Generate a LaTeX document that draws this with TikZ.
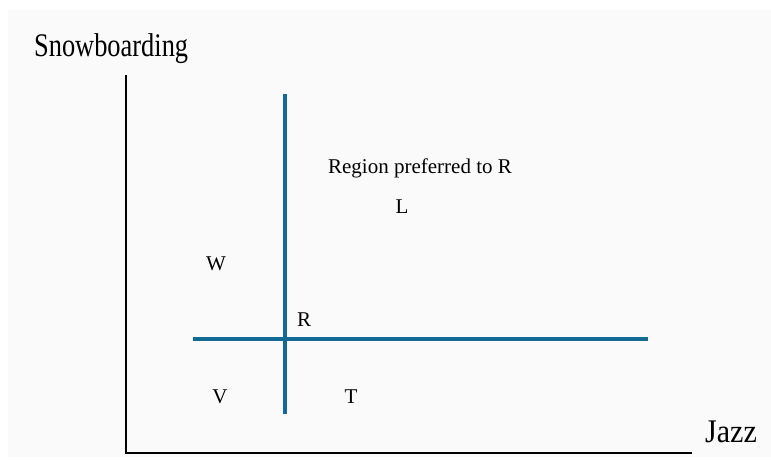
\documentclass[tikz,border=0pt]{standalone}
\usepackage{fontspec}
\setmainfont{Liberation Serif}
\usetikzlibrary{positioning}
\definecolor{boundcol}{HTML}{126A94}
\definecolor{bgcol}{HTML}{FAFAFA}

\begin{document}
\begin{tikzpicture}[x=1pt, y=-1pt, every node/.style={inner sep=0pt, anchor=base}, small/.style={font=\fontsize{21}{25}\selectfont}, big/.style={font=\fontsize{33}{38}\selectfont}, bound/.style={draw=boundcol, line width=4pt}]
    \useasboundingbox (0,0) rectangle (771,460);
    \fill[bgcol] (8,10) rectangle (771,457);
    \coordinate (o) at (126,453);
    \coordinate (ytop) at (126,75);
    \coordinate (xend) at (692,453);
    \coordinate (vtop) at (285,94);
    \coordinate (vbot) at (285,414);
    \coordinate (hleft) at (193,339);
    \coordinate (hright) at (648,339);
    \node[big, anchor=base west, xscale=0.8] (ylab) at (34,57) {Snowboarding};
    \node[big, anchor=base west, xscale=0.91] (xlab) at (705,442) {Jazz};
    \node[small] (pref) at (420,173) {Region preferred to R};
    \node[small] (L) at (402,213) {L};
    \node[small] (W) at (216,270) {W};
    \node[small] (R) at (304,326) {R};
    \node[small] (V) at (220,403) {V};
    \node[small] (T) at (351,403) {T};
        \draw[line width=2pt] (ytop) -- (o) -- (xend);
        \draw[bound] (vtop) -- (vbot);
        \draw[bound] (hleft) -- (hright);
\end{tikzpicture}
\end{document}
